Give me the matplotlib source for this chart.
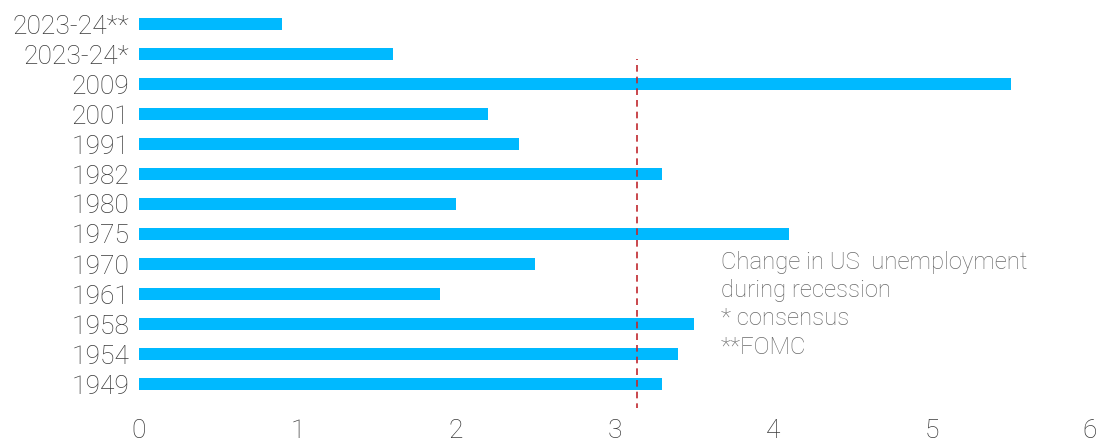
import numpy as np
import matplotlib.pyplot as plt

### data (bottom to top)
years = ["1949", "1954", "1958", "1961", "1970", "1975", "1980",
         "1982", "1991", "2001", "2009", "2023-24*", "2023-24**"]
change = [3.3, 3.4, 3.5, 1.9, 2.5, 4.1, 2.0, 3.3, 2.4, 2.2, 5.5, 1.6, 0.9]
ref_level = 3.14
note_lines = ["Change in US  unemployment", "during recession", "* consensus", "**FOMC"]

plt.rcParams['font.family'] = ['Roboto', 'DejaVu Sans']

fig = plt.figure(figsize=(10.99, 4.43), dpi=100)
# 13 rows, 30.08 px apart, top row at y=23 and bottom row at y=384
ax = fig.add_axes([139/1099, 1 - 408/443, (1090-139)/1099, (408-6)/443])

pos = np.arange(len(years))
ax.barh(pos, change, height=0.42, color="#00B9FF", zorder=2)
ax.plot([ref_level, ref_level], [-0.86, 10.83], color="#C0282D", lw=1.2,
        linestyle=(0, (4, 3)), zorder=3)

ax.set_xlim(0, 6)
ax.set_ylim(-0.8, 12.6)
ax.set_yticks(pos)
ax.set_yticklabels(years)
ax.set_xticks(range(7))
for s in ax.spines.values():
    s.set_visible(False)
ax.tick_params(length=0, labelsize=19, colors="#3A3A3A", pad=7)
ax.tick_params(axis="x", pad=8)
for lab in ax.get_xticklabels() + ax.get_yticklabels():
    lab.set_fontweight("light")

ax.text(3.67, 4.45, "\n".join(note_lines), fontsize=17.2, color="#6A6A6A",
        fontweight="light", va="top", ha="left", linespacing=1.3)

plt.savefig("out.png", dpi=100)
